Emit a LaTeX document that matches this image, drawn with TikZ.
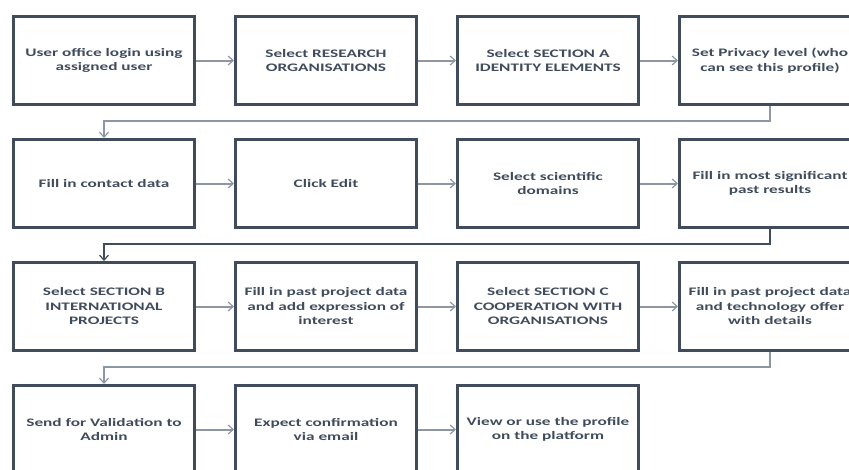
\documentclass[tikz,border=0pt]{standalone}
\usepackage{fontspec}
\setmainfont{Carlito}[FakeStretch=1.5]
\usepackage{tikz}
\usetikzlibrary{arrows.meta}
\usetikzlibrary{positioning}
\definecolor{slate}{RGB}{64,76,92}
\definecolor{steel}{RGB}{141,151,163}
\tikzset{
    arrow/.style={->, >={Straight Barb[length=5bp,width=9bp,line width=1.2bp]},
      draw=steel, line width=2bp},
    box/.style = {
      draw=slate,
      line width=3bp,
      rectangle,
      minimum width=181bp,
      minimum height=88bp,
      align=center,
      text=slate,
      font=\fontsize{11.5bp}{14.5bp}\selectfont\bfseries
    },
}

\begin{document}
\begin{tikzpicture}[
      node distance=32bp and 38bp
    ]
      \useasboundingbox (0,0) rectangle (849bp,-470bp);

      \node [box] (login) at (104bp,-60.5bp) {User office login using\\assigned user};
      \node [box, right=of login] (research) {Select RESEARCH\\ORGANISATIONS};
      \node [box, right=of research] (sectionA) {Select SECTION A\\IDENTITY ELEMENTS};
      \node [box, right=of sectionA] (privacy) {Set Privacy level (who\\can see this profile)};

      \node [box, below=of login] (contact) {Fill in contact data};
      \node [box, right=of contact] (edit) {Click Edit};
      \node [box, right=of edit] (domains) {Select scientific\\domains};
      \node [box, right=of domains] (results) {Fill in most significant\\past results};

      \node [box, below=of contact] (sectionB) {Select SECTION B\\INTERNATIONAL\\PROJECTS};
      \node [box, right=of sectionB] (interest) {Fill in past project data\\and add expression of\\interest};
      \node [box, right=of interest] (sectionC) {Select SECTION C\\COOPERATION WITH\\ORGANISATIONS};
      \node [box, right=of sectionC] (offer) {Fill in past project data\\and technology offer\\with details};

      \node [box, below=of sectionB] (validation) {Send for Validation to\\Admin};
      \node [box, right=of validation] (confirm) {Expect confirmation\\via email};
      \node [box, right=of confirm] (profile) {View or use the profile\\on the platform};

      \draw [arrow] (login) -- (research);
      \draw [arrow] (research) -- (sectionA);
      \draw [arrow] (sectionA) -- (privacy);
      \draw [arrow] (privacy.south) -- ++(0,-15bp) -| (contact.north);

      \draw [arrow] (contact) -- (edit);
      \draw [arrow] (edit) -- (domains);
      \draw [arrow] (domains) -- (results);
      \draw [arrow, draw=slate, line width=1.5bp] (results.south) -- ++(0,-15bp) -| (sectionB.north);

      \draw [arrow] (sectionB) -- (interest);
      \draw [arrow] (interest) -- (sectionC);
      \draw [arrow] (sectionC) -- (offer);
      \draw [arrow] (offer.south) -- ++(0,-15bp) -| (validation.north);

      \draw [arrow] (validation) -- (confirm);
      \draw [arrow] (confirm) -- (profile);
    \end{tikzpicture}
\end{document}
